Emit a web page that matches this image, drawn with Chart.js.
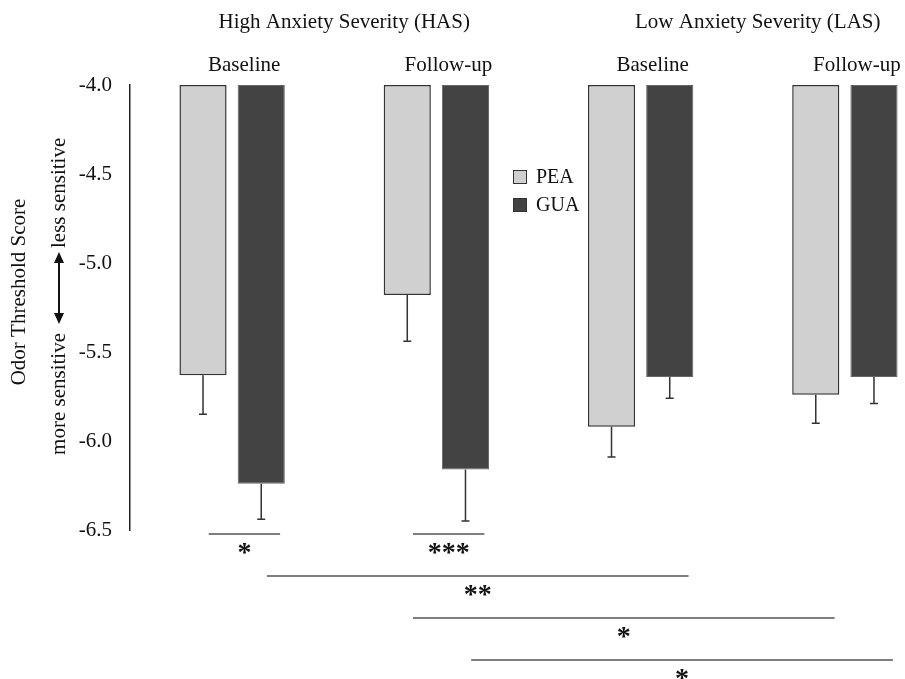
<!DOCTYPE html>
<html>
<head>
<meta charset="utf-8">
<script src="https://cdn.jsdelivr.net/npm/chart.js@4"></script>
<style>
	html, body { margin: 0; padding: 0; background: #fff; overflow: hidden; }
	#wrap { width: 960px; height: 679px; }
</style>
</head>
<body>
<div id="wrap"><canvas id="chart"></canvas></div>
<script>
const groups = ['Baseline', 'Follow-up', 'Baseline', 'Follow-up'];
const peaMeans = [-5.63, -5.18, -5.92, -5.74];
const peaErrors = [0.22, 0.26, 0.17, 0.16];
const guaMeans = [-6.24, -6.16, -5.64, -5.64];
const guaErrors = [0.2, 0.29, 0.12, 0.15];
const yTicks = [-6.5, -6.0, -5.5, -5.0, -4.5, -4.0];
const headers = ['High Anxiety Severity (HAS)', 'Low Anxiety Severity (LAS)'];
// [group, dataset] -> [group, dataset], stars
const comparisons = [
	[0, 0, 0, 1, '*'],
	[1, 0, 1, 1, '***'],
	[0, 1, 2, 1, '**'],
	[1, 0, 3, 0, '*'],
	[1, 1, 3, 1, '*'],
];
const compRows = [0, 0, 1, 2, 3];

const serif = '"Liberation Serif", "Times New Roman", serif';
const errors = [peaErrors, guaErrors];

const extras = {
	id: 'extras',
	afterDatasetsDraw(chart) {
		const ctx = chart.ctx;
		const y = chart.scales.y;
		const area = chart.chartArea;
		ctx.save();

		// error bars (downward only)
		ctx.strokeStyle = '#333';
		ctx.lineWidth = 1.5;
		chart.data.datasets.forEach((ds, d) => {
			chart.getDatasetMeta(d).data.forEach((bar, i) => {
				const y0 = y.getPixelForValue(ds.data[i]);
				const y1 = y.getPixelForValue(ds.data[i] - errors[d][i]);
				ctx.beginPath();
				ctx.moveTo(bar.x, y0);
				ctx.lineTo(bar.x, y1);
				ctx.moveTo(bar.x - 4, y1);
				ctx.lineTo(bar.x + 4, y1);
				ctx.stroke();
			});
		});

		// group headers
		const meta0 = chart.getDatasetMeta(0).data;
		const meta1 = chart.getDatasetMeta(1).data;
		ctx.fillStyle = '#111';
		ctx.font = '21px ' + serif;
		ctx.textAlign = 'center';
		ctx.textBaseline = 'middle';
		const hasX = (meta0[0].x + meta1[1].x) / 2 + 10;
		const lasX = (meta0[2].x + meta1[3].x) / 2 + 15;
		ctx.fillText(headers[0], hasX, 22);
		ctx.fillText(headers[1], lasX, 22);

		// legend
		const lx = area.left + 383;
		ctx.font = '20px ' + serif;
		chart.data.datasets.forEach((ds, d) => {
			const ly = 170 + d * 28;
			ctx.fillStyle = ds.backgroundColor;
			ctx.fillRect(lx, ly, 14, 14);
			ctx.strokeStyle = '#333';
			ctx.lineWidth = 1;
			ctx.strokeRect(lx + 0.5, ly + 0.5, 13, 13);
			ctx.fillStyle = '#111';
			ctx.textAlign = 'left';
			ctx.fillText(ds.label, lx + 23, ly + 8);
		});

		// significance lines
		ctx.strokeStyle = '#555';
		ctx.lineWidth = 1.3;
		comparisons.forEach((c, k) => {
			const a = chart.getDatasetMeta(c[1]).data[c[0]];
			const b = chart.getDatasetMeta(c[3]).data[c[2]];
			const x0 = a.x + a.width * 0.12;
			const x1 = b.x + b.width * 0.4;
			const ly = area.bottom + 4 + compRows[k] * 42;
			ctx.beginPath();
			ctx.moveTo(x0, ly);
			ctx.lineTo(x1, ly);
			ctx.stroke();
			ctx.fillStyle = '#111';
			ctx.textAlign = 'center';
			ctx.font = 'bold 28px ' + serif;
			ctx.fillText(c[4], (x0 + x1) / 2, ly + 20);
		});

		// y titles
		ctx.fillStyle = '#111';
		ctx.font = '21px ' + serif;
		ctx.save();
		ctx.translate(19, 292);
		ctx.rotate(-Math.PI / 2);
		ctx.textAlign = 'center';
		ctx.fillText('Odor Threshold Score', 0, 0);
		ctx.restore();

		ctx.save();
		ctx.translate(59, 288);
		ctx.rotate(-Math.PI / 2);
		ctx.textAlign = 'right';
		ctx.fillText('more sensitive', -45, 0);
		ctx.textAlign = 'left';
		ctx.fillText('less sensitive', 40, 0);
		ctx.strokeStyle = '#111';
		ctx.lineWidth = 2;
		ctx.beginPath();
		ctx.moveTo(-28, 0);
		ctx.lineTo(28, 0);
		ctx.stroke();
		ctx.beginPath();
		ctx.moveTo(-36, 0); ctx.lineTo(-25, -5); ctx.lineTo(-25, 5); ctx.closePath();
		ctx.moveTo(36, 0); ctx.lineTo(25, -5); ctx.lineTo(25, 5); ctx.closePath();
		ctx.fill();
		ctx.restore();

		ctx.restore();
	},
};

const config = {
	type: 'bar',
	data: {
		labels: groups,
		datasets: [
			{
				label: 'PEA',
				data: peaMeans,
				base: -4,
				backgroundColor: '#d0d0d0',
				borderColor: '#333',
				borderWidth: 1.5,
				borderSkipped: false,
			},
			{
				label: 'GUA',
				data: guaMeans,
				base: -4,
				backgroundColor: '#434343',
				borderColor: '#666',
				borderWidth: 1,
				borderSkipped: false,
			},
		],
	},
	options: {
		responsive: true,
		maintainAspectRatio: false,
		animation: false,
		categoryPercentage: 0.57,
		barPercentage: 0.81,
		layout: { padding: { top: 0, right: 13, bottom: 149, left: 0 } },
		plugins: {
			legend: { display: false },
			tooltip: { enabled: false },
		},
		scales: {
			x: {
				position: 'top',
				grid: { display: false, drawTicks: false },
				border: { display: false },
				ticks: {
					color: '#111',
					font: { family: serif, size: 21 },
					labelOffset: 12,
					padding: 7,
				},
				afterFit(scale) { scale.height = 85; },
			},
			y: {
				min: -6.5,
				max: -4,
				afterBuildTicks(scale) {
					scale.ticks = yTicks.map(v => ({ value: v }));
				},
				grid: { display: false, drawTicks: false },
				border: { display: true, color: '#222', width: 1.5 },
				ticks: {
					color: '#111',
					font: { family: serif, size: 21 },
					padding: 18,
					callback: v => v.toFixed(1),
				},
				afterFit(scale) { scale.width = 130; },
			},
		},
	},
	plugins: [extras],
};

new Chart(document.getElementById('chart'), config);
</script>
</body>
</html>
